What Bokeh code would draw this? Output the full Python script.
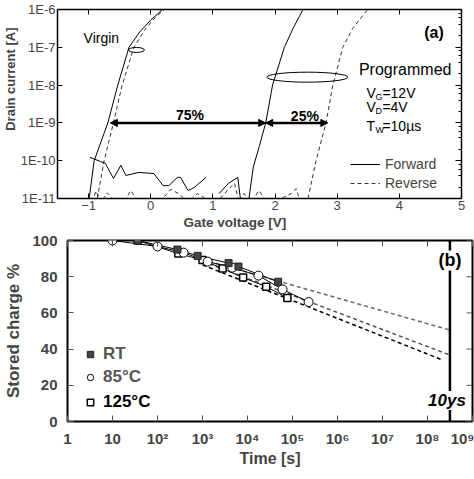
import numpy as np
from bokeh.plotting import figure
from bokeh.models import (Range1d, LinearAxis, LogAxis, FixedTicker, LogTicker,
                          CustomJSTickFormatter, Label, Span, Legend, LegendItem,
                          Arrow, NormalHead, Title)
from bokeh.embed import file_html
from bokeh.resources import INLINE

FONT = "Liberation Sans"

# ---------------- Panel (a): Id-Vg curves (log10 of drain current [A]) ----------------
vg_virgin_fwd = [-0.99, -0.91, -0.80, -0.69, -0.53, -0.35, -0.18, 0.0, 0.19]
logid_virgin_fwd = [-11.0, -10.0, -9.5, -9.0, -8.0, -7.0, -6.6, -6.28, -6.0]
vg_virgin_rev = [-0.86, -0.75, -0.60, -0.46, -0.27, -0.10, 0.05, 0.22]
logid_virgin_rev = [-11.0, -10.0, -9.0, -8.0, -7.0, -6.55, -6.25, -6.0]
vg_prog_fwd = [1.58, 1.65, 1.75, 1.85, 1.96, 2.15, 2.29, 2.45]
logid_prog_fwd = [-11.0, -10.17, -9.6, -9.0, -8.0, -7.0, -6.5, -6.0]
vg_prog_rev = [2.53, 2.66, 2.82, 2.93, 3.09, 3.25, 3.49]
logid_prog_rev = [-11.0, -10.0, -9.0, -8.0, -7.0, -6.5, -6.0]

vg_noise_fwd1 = [-0.98, -0.81, -0.73, -0.60, -0.48, -0.40, -0.19, 0.05, 0.20, 0.29,
                 0.43, 0.48, 0.60, 0.70, 0.89]
logid_noise_fwd1 = [-9.91, -10.02, -10.07, -10.47, -10.12, -10.39, -10.31, -10.34, -10.66,
                    -10.66, -10.44, -10.44, -10.79, -10.71, -10.44]
vg_noise_fwd2 = [1.10, 1.25, 1.40, 1.45]
logid_noise_fwd2 = [-10.87, -10.6, -10.44, -11.1]
vg_noise_rev = [-0.95, -0.88, -0.80, -0.70, -0.55, -0.40, -0.32, -0.20, -0.05, 0.10,
                0.25, 0.32, 0.45, 0.60, 0.75, 0.88, 1.00, 1.15, 1.25, 1.35,
                1.42, 1.50, 1.62, 1.74, 1.83, 1.95, 2.10, 2.26, 2.34, 2.39]
logid_noise_rev = [-11.1, -10.8, -11.1, -10.85, -11.1, -11.0, -10.79, -11.1, -11.0, -11.1,
                   -10.9, -10.76, -10.87, -11.1, -10.87, -11.0, -11.1, -10.95, -10.75, -10.6,
                   -11.1, -10.87, -11.1, -10.79, -11.0, -11.1, -11.0, -10.87, -10.74, -11.0]

vg_ticks = [-1, 0, 1, 2, 3, 4, 5]
id_decades = [-11, -10, -9, -8, -7, -6]
vt_marks = [-0.65, 1.85, 2.85]         # Vt positions at 1E-9 A
shift_labels = ["75%", "25%"]

# ---------------- Panel (b): retention ----------------
t_rt = [36, 277, 780, 3800, 6300, 48000]
q_rt = [100, 95.0, 91.5, 87.5, 85.6, 77.2]
t_85 = [10, 100, 380, 1300, 4600, 17500, 60000, 228000]
q_85 = [100, 96.7, 93.3, 88.3, 85.0, 80.6, 73.0, 66.0]
t_125 = [36, 290, 1000, 2800, 8000, 26000, 77000]
q_125 = [100, 92.8, 89.2, 84.5, 79.5, 74.5, 68.3]

fit_t = [1e3, 3.15e8]
fit_rt = [89.5, 50.5]
fit_85 = [88.5, 36.7]
fit_t_125 = [1e3, 2.15e8]
fit_125 = [86.5, 34.0]

ten_years = 3.15e8
time_decades = list(range(0, 10))
charge_ticks = [0, 20, 40, 60, 80, 100]

blank = CustomJSTickFormatter(code="return '';")

# =============== figure (a) ===============
p1 = figure(width=474, height=232, x_range=Range1d(-1.5, 5), y_range=Range1d(1e-11, 1e-6),
            y_axis_type="log", output_backend="svg", toolbar_location=None,
            min_border_left=57, min_border_right=13, min_border_top=9, min_border_bottom=34)
p1.grid.visible = False
p1.outline_line_color = "black"
p1.outline_line_width = 1.5
p1.background_fill_color = "white"
p1.border_fill_color = "white"

xa = p1.below[0]
xa.ticker = FixedTicker(ticks=vg_ticks)
xa.major_tick_in = 5
xa.major_tick_out = 0
xa.minor_tick_line_color = None
xa.major_label_text_font = FONT
xa.major_label_text_font_size = "13px"
xa.major_label_standoff = 2
xa.axis_line_color = None

ya = p1.left[0]
ya.ticker = FixedTicker(ticks=[10.0 ** e for e in id_decades])
ya.formatter = CustomJSTickFormatter(code="return '1E' + Math.round(Math.log10(tick));")
ya.major_tick_in = 5
ya.major_tick_out = 0
ya.minor_tick_line_color = None
ya.major_label_text_font = FONT
ya.major_label_text_font_size = "13px"
ya.major_label_standoff = 2
ya.axis_line_color = None

top_a = LinearAxis(ticker=FixedTicker(ticks=vg_ticks), formatter=blank,
                   major_label_text_font_size="2px",
                   major_tick_in=5, major_tick_out=0, minor_tick_line_color=None,
                   axis_line_color=None, major_label_standoff=0)
p1.add_layout(top_a, "above")
right_a = LogAxis(ticker=LogTicker(), formatter=blank, major_label_text_font_size="2px",
                  major_tick_in=6, major_tick_out=0, minor_tick_in=3, minor_tick_out=0,
                  axis_line_color=None, major_label_standoff=0)
p1.add_layout(right_a, "right")

p1.add_layout(Title(text="Gate voltage [V]", align="left", offset=126, standoff=0,
                    text_font=FONT, text_font_size="13.5px", text_font_style="bold"), "below")
p1.add_layout(Title(text="Drain current [A]", align="right", offset=18, standoff=0,
                    text_font=FONT, text_font_size="13px", text_font_style="bold"), "left")

def tens(arr):
    return [10.0 ** v for v in arr]

dash = "4 3"
r_vf = p1.line(vg_virgin_fwd, tens(logid_virgin_fwd), line_color="black", line_width=1)
r_vr = p1.line(vg_virgin_rev, tens(logid_virgin_rev), line_color="#333333", line_width=1, line_dash=dash)
r_pf = p1.line(vg_prog_fwd, tens(logid_prog_fwd), line_color="black", line_width=1)
r_pr = p1.line(vg_prog_rev, tens(logid_prog_rev), line_color="#333333", line_width=1, line_dash=dash)
p1.line(vg_noise_fwd1, tens(logid_noise_fwd1), line_color="black", line_width=1)
p1.line(vg_noise_fwd2, tens(logid_noise_fwd2), line_color="black", line_width=1)
p1.line(vg_noise_rev, tens(logid_noise_rev), line_color="#333333", line_width=1, line_dash=dash)

# ellipses marking curve groups
p1.ellipse(x=[-0.23, 2.52], y=[10 ** -7.07, 10 ** -7.79], width=[16, 81], height=[5, 10],
           width_units="screen", height_units="screen", fill_color=None,
           line_color="black", line_width=1)

# Vt shift arrows
y_arrow = 1e-9
p1.add_layout(Arrow(x_start=vt_marks[0], y_start=y_arrow, x_end=vt_marks[1], y_end=y_arrow,
                    start=NormalHead(size=7, fill_color="black", line_color="black"),
                    end=NormalHead(size=7, fill_color="black", line_color="black"),
                    line_width=2.5, line_color="black"))
p1.add_layout(Arrow(x_start=vt_marks[1], y_start=y_arrow, x_end=vt_marks[2], y_end=y_arrow,
                    start=NormalHead(size=7, fill_color="black", line_color="black"),
                    end=NormalHead(size=7, fill_color="black", line_color="black"),
                    line_width=2.5, line_color="black"))

def lab(fig, x, y, text, size, style="normal", align="left", baseline="middle", angle=0,
        xo=0, yo=0, bg=None, color="black"):
    l = Label(x=x, y=y, text=text, text_font=FONT, text_font_size=size,
              text_font_style=style, text_align=align, text_baseline=baseline, angle=angle,
              x_offset=xo, y_offset=yo, text_color=color)
    if bg is not None:
        l.background_fill_color = bg
    fig.add_layout(l)
    return l

lab(p1, 0.63, 10 ** -8.8, shift_labels[0], "14px", "bold", "center")
lab(p1, 2.48, 10 ** -8.82, shift_labels[1], "14px", "bold", "center")
lab(p1, -1.08, 10 ** -6.76, "Virgin", "14px")
lab(p1, 4.40, 10 ** -6.62, "(a)", "16px", "bold")
lab(p1, 3.35, 10 ** -7.6, "Programmed", "16px")
# V_G=12V, V_D=4V, T_W=10µs with subscripts
rows = [("V", "G", "=12V", -8.2), ("V", "D", "=4V", -8.57), ("T", "W", "=10\u00b5s", -9.07)]
for main, sub, rest, ly in rows:
    lab(p1, 3.47, 10 ** ly, main, "14px")
    lab(p1, 3.47, 10 ** ly, sub, "9px", xo=9, yo=-4)
    lab(p1, 3.47, 10 ** ly, rest, "14px", xo=16)

leg_a = Legend(items=[LegendItem(label="Forward", renderers=[r_pf]),
                      LegendItem(label="Reverse", renderers=[r_pr])],
               location=(293, 6), padding=0, margin=0, spacing=1,
               glyph_width=30, glyph_height=18, label_height=18, label_standoff=5,
               label_text_font=FONT, label_text_font_size="14px",
               border_line_color=None, background_fill_alpha=0)
p1.add_layout(leg_a)

# =============== figure (b) ===============
p2 = figure(width=474, height=247, x_axis_type="log", x_range=Range1d(1, 1e9),
            y_range=Range1d(0, 100), output_backend="svg", toolbar_location=None,
            min_border_left=67, min_border_right=2, min_border_top=8, min_border_bottom=58)
p2.grid.visible = False
p2.outline_line_color = "black"
p2.outline_line_width = 2
p2.background_fill_color = "white"
p2.border_fill_color = "white"

sup_js = """
const e = Math.round(Math.log10(tick));
if (e === 0) return "1";
if (e === 1) return "10";
const sup = ["\u2070","\u00b9","\u00b2","\u00b3","\u2074","\u2075","\u2076","\u2077","\u2078","\u2079"];
return "10" + sup[e];
"""
xb = p2.below[0]
xb.ticker = FixedTicker(ticks=[10.0 ** e for e in time_decades])
xb.formatter = CustomJSTickFormatter(code=sup_js)
xb.major_tick_in = 6
xb.major_tick_out = 0
xb.major_tick_line_color = "#555555"
xb.minor_tick_line_color = None
xb.major_label_text_font = FONT
xb.major_label_text_font_size = "15px"
xb.major_label_text_font_style = "bold"
xb.major_label_standoff = 8
xb.axis_line_color = None
xb.axis_label = "Time [s]"
xb.axis_label_text_font = FONT
xb.axis_label_text_font_size = "16px"
xb.axis_label_text_font_style = "bold"
xb.axis_label_standoff = 0

yb = p2.left[0]
yb.ticker = FixedTicker(ticks=charge_ticks)
yb.major_tick_in = 6
yb.major_tick_out = 0
yb.major_tick_line_color = "#555555"
yb.minor_tick_line_color = None
yb.major_label_text_font = FONT
yb.major_label_text_font_size = "15px"
yb.major_label_text_font_style = "bold"
yb.major_label_standoff = 10
yb.axis_line_color = None
yb.axis_label = "Stored charge %"
yb.axis_label_text_font = FONT
yb.axis_label_text_font_size = "17px"
yb.axis_label_text_font_style = "bold"
yb.axis_label_standoff = 6

top_b = LogAxis(ticker=FixedTicker(ticks=[10.0 ** e for e in time_decades]), formatter=blank,
                major_label_text_font_size="2px", major_tick_in=6, major_tick_out=0,
                major_tick_line_color="#555555", minor_tick_line_color=None,
                axis_line_color=None, major_label_standoff=0)
p2.add_layout(top_b, "above")
# inward ticks on the right edge of the frame
p2.ray(x=[1e9] * len(charge_ticks), y=charge_ticks, length=6, length_units="screen",
       angle=np.pi, line_color="#555555", line_width=1)

p2.add_layout(Span(location=ten_years, dimension="height", line_color="black", line_width=2.5))

p2.line(fit_t, fit_rt, line_color="#666666", line_width=1.5, line_dash="4 3")
p2.line(fit_t, fit_85, line_color="#555555", line_width=1.5, line_dash="4 3")
p2.line(fit_t_125, fit_125, line_color="black", line_width=1.5, line_dash="4 3")

p2.line(t_rt, q_rt, line_color="black", line_width=1)
p2.line(t_85, q_85, line_color="black", line_width=1)
p2.line(t_125, q_125, line_color="black", line_width=1)

r_125 = p2.scatter(t_125, q_125, marker="square", size=7, fill_color="white",
                   line_color="black", line_width=1.5)
r_85 = p2.scatter(t_85, q_85, marker="circle", size=9, fill_color="white",
                  line_color="black", line_width=1)
r_rt = p2.scatter(t_rt, q_rt, marker="square", size=7, fill_color="#444444",
                  line_color="#222222", line_width=1)

for (rend, text, color, ybot) in [(r_rt, "RT", "#555555", 57), (r_85, "85\u00b0C", "#555555", 34),
                                  (r_125, "125\u00b0C", "black", 9)]:
    lg = Legend(items=[LegendItem(label=text, renderers=[rend])], location=(15, ybot),
                padding=0, margin=0, glyph_width=16, glyph_height=20, label_height=20,
                label_standoff=5, label_text_font=FONT, label_text_font_size="17px",
                label_text_font_style="bold", label_text_color=color,
                border_line_color=None, background_fill_alpha=0)
    p2.add_layout(lg)

lab(p2, ten_years, 11.6, "10ys", "17px", "bold italic", "center", xo=-3, bg="white")
lab(p2, ten_years, 89, "(b)", "18px", "bold", "center", bg="white")

# two independent roots stacked vertically (no frame alignment between panels)
open("out.html", "w").write(file_html([p1, p2], INLINE))
